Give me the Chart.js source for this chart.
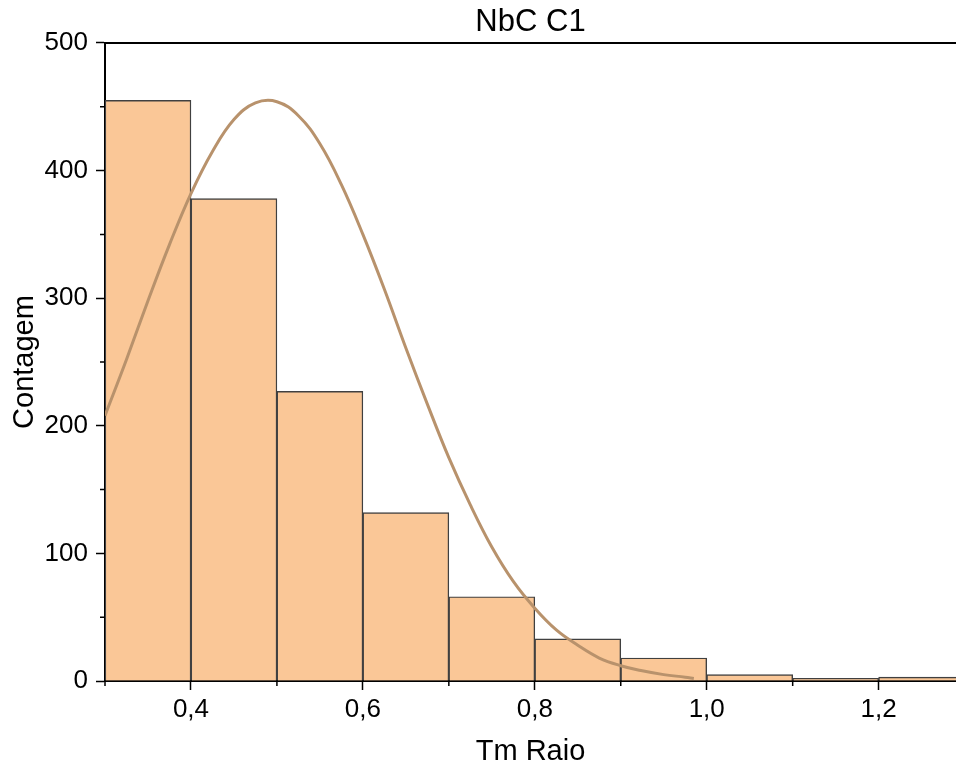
<!DOCTYPE html>
<html>
<head>
<meta charset="utf-8">
<title>NbC C1</title>
<script src="https://cdn.jsdelivr.net/npm/chart.js@4.4.0/dist/chart.umd.min.js"></script>
<style>
  html, body { margin: 0; padding: 0; background: #fff; }
</style>
</head>
<body>
<canvas id="histChart" width="956" height="769"></canvas>
<script>
// histogram bins (width 0.1) and counts
const binCenters = [0.35, 0.45, 0.55, 0.65, 0.75, 0.85, 0.95, 1.05, 1.15, 1.25];
const counts = [455, 378, 227, 132, 66, 33, 18, 5, 2, 3];

// fitted distribution curve
const curveX = [0.300, 0.325, 0.350, 0.375, 0.400, 0.425, 0.450, 0.475, 0.500, 0.525, 0.550, 0.575,
                0.600, 0.625, 0.650, 0.675, 0.700, 0.725, 0.750, 0.775, 0.800, 0.825, 0.850, 0.875,
                0.900, 0.925, 0.950, 0.975, 0.985];
const curveY = [208, 252, 298, 342, 382, 415, 440, 453, 454, 443, 421, 389,
                350, 307, 261, 217, 175, 138, 105, 78, 57, 40, 28, 18,
                12, 8, 5, 3, 2];

const xTicks = [0.4, 0.6, 0.8, 1.0, 1.2];
const xMinor = [0.3, 0.5, 0.7, 0.9, 1.1];
const yTicks = [0, 100, 200, 300, 400, 500];
const yMinor = [50, 150, 250, 350, 450];

const FONT = '"Liberation Sans", Arial, sans-serif';

// minor ticks + top frame line
const frame = {
  id: 'frame',
  afterDraw(chart) {
    const { ctx, chartArea: a, scales: { x, y } } = chart;
    ctx.save();
    ctx.strokeStyle = '#000';
    ctx.lineWidth = 1.5;
    ctx.beginPath();
    xMinor.forEach(v => {
      const px = x.getPixelForValue(v);
      ctx.moveTo(px, a.bottom); ctx.lineTo(px, a.bottom + 5);
    });
    yMinor.forEach(v => {
      const py = y.getPixelForValue(v);
      ctx.moveTo(a.left, py); ctx.lineTo(a.left - 5, py);
    });
    ctx.stroke();
    ctx.lineWidth = 2;
    ctx.beginPath();
    ctx.moveTo(a.left, a.top); ctx.lineTo(a.right, a.top);
    ctx.stroke();
    ctx.restore();
  }
};

const fmt = v => v.toFixed(1).replace('.', ',');

new Chart(document.getElementById('histChart'), {
  type: 'bar',
  data: {
    datasets: [
      {
        type: 'line',
        data: curveX.map((x, i) => ({ x, y: curveY[i] })),
        borderColor: '#B8926C',
        borderWidth: 3,
        pointRadius: 0,
        tension: 0.4,
        order: 0
      },
      {
        data: binCenters.map((x, i) => ({ x, y: counts[i] })),
        backgroundColor: '#FAC797',
        borderColor: '#404040',
        borderWidth: 1.4,
        borderSkipped: 'start',
        barPercentage: 1,
        categoryPercentage: 1,
        order: 1
      }
    ]
  },
  options: {
    responsive: false,
    animation: false,
    layout: { padding: 0 },
    plugins: {
      legend: { display: false },
      tooltip: { enabled: false },
      title: {
        display: true,
        text: 'NbC C1',
        fullSize: false,
        color: '#000',
        font: { family: FONT, size: 31, weight: 'normal', lineHeight: 1.2 },
        padding: { top: 4, bottom: 1.8 }
      }
    },
    scales: {
      x: {
        type: 'linear',
        min: 0.3,
        max: 1.29,
        offset: false,
        z: 1,
        afterFit: s => { s.height = 88; },
        afterBuildTicks: s => { s.ticks = xTicks.map(value => ({ value })); },
        grid: { drawOnChartArea: false, offset: false, tickLength: 9, tickColor: '#000', tickWidth: 1.5 },
        border: { color: '#000', width: 2 },
        ticks: {
          color: '#000', padding: 4, maxRotation: 0,
          font: { family: FONT, size: 26 },
          callback: v => fmt(v)
        },
        title: {
          display: true, text: 'Tm Raio', color: '#000',
          font: { family: FONT, size: 29, lineHeight: 1.2 },
          padding: { top: 0, bottom: 0 }
        }
      },
      y: {
        min: 0,
        max: 500,
        z: 1,
        afterFit: s => { s.width = 105; },
        afterBuildTicks: s => { s.ticks = yTicks.map(value => ({ value })); },
        grid: { drawOnChartArea: false, tickLength: 9, tickColor: '#000', tickWidth: 1.5 },
        border: { color: '#000', width: 2 },
        ticks: { color: '#000', padding: 8, font: { family: FONT, size: 26 } },
        title: {
          display: true, text: 'Contagem', color: '#000',
          font: { family: FONT, size: 29, lineHeight: 1.2 },
          padding: { top: 8, bottom: 0 }
        }
      }
    }
  },
  plugins: [frame]
});
</script>
</body>
</html>
